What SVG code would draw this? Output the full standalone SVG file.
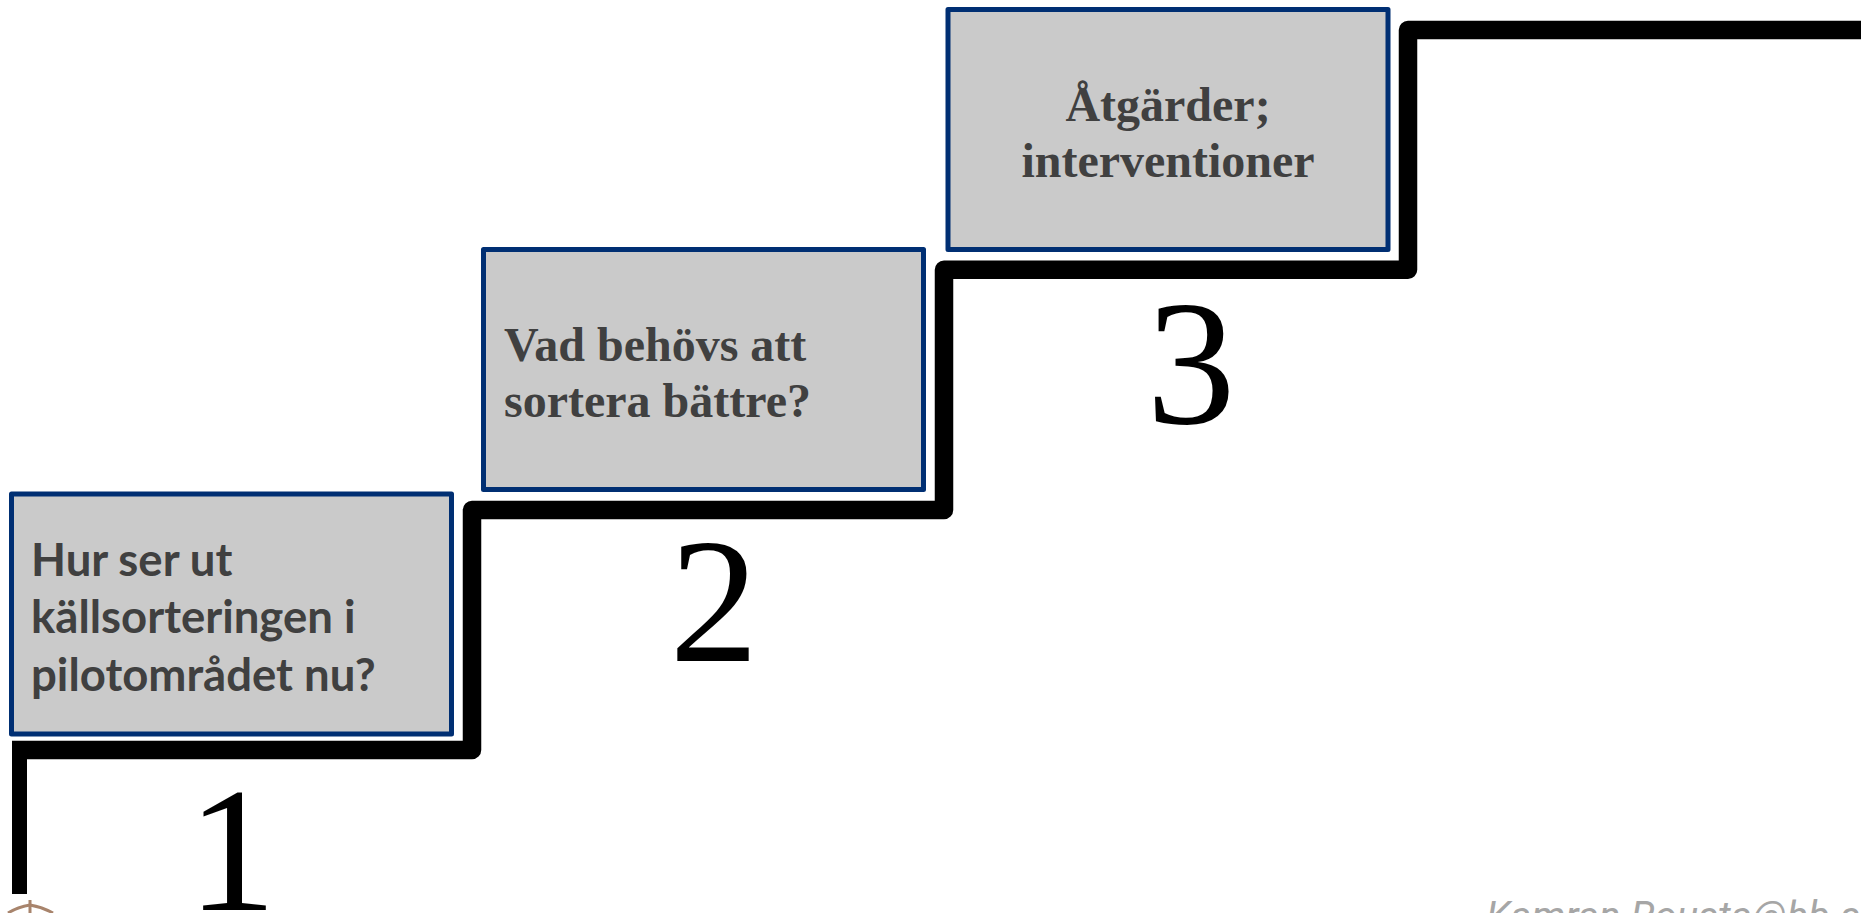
<svg xmlns="http://www.w3.org/2000/svg" width="1861" height="913" viewBox="0 0 1861 913">
<style>
.box{fill:#cacaca;stroke:#002f73;stroke-width:5;stroke-linejoin:round}
.stair{fill:none;stroke:#000;stroke-width:18.500;stroke-linejoin:round}
.t{font-weight:bold;fill:#404040}
.cal{font-family:"Lato","Liberation Sans",sans-serif;font-size:45.500px}
.ser{font-family:"Liberation Serif",serif;font-size:48px}
.num{font-family:"Liberation Serif",serif;font-size:178px;fill:#000;text-anchor:middle}
</style>
<rect width="1861" height="913" fill="#fff"/>
<g id="connectors">
<path class="stair" d="M12 750H472V510H944V269.700H1408V30H1861"/>
<rect x="12" y="741" width="15" height="153" fill="#000"/>
</g>
<g id="step1"><rect class="box" x="11.500" y="494" width="440" height="240"/>
<text class="t cal" x="31" y="576">Hur ser ut</text><text class="t cal" x="31" y="633">källsorteringen i</text><text class="t cal" x="31" y="691">pilotområdet nu?</text></g>
<g id="step2"><rect class="box" x="483.500" y="249.500" width="440" height="240"/>
<text class="t ser" x="504" y="361">Vad behövs att</text><text class="t ser" x="504" y="417">sortera bättre?</text></g>
<g id="step3"><rect class="box" x="948" y="9.500" width="440" height="240"/>
<text class="t ser" x="1168" y="121" text-anchor="middle">Åtgärder;</text><text class="t ser" x="1168" y="177" text-anchor="middle">interventioner</text></g>
<g id="num1"><text class="num" x="232" y="910">1</text></g>
<g id="num2"><text class="num" x="714" y="661">2</text></g>
<g id="num3"><text class="num" x="1191" y="423">3</text></g>
<g id="logo"><path d="M8 913Q18 907 30 905Q42 907 53 913" fill="none" stroke="#a8846c" stroke-width="3"/><rect x="28.500" y="900" width="3" height="13" fill="#a8846c"/></g>
<g id="credit"><text x="1486" y="930" font-family="Roboto,sans-serif" font-style="italic" font-size="40" fill="#a6a6a6">Kamran.Rousta@hb.se</text></g>
</svg>
